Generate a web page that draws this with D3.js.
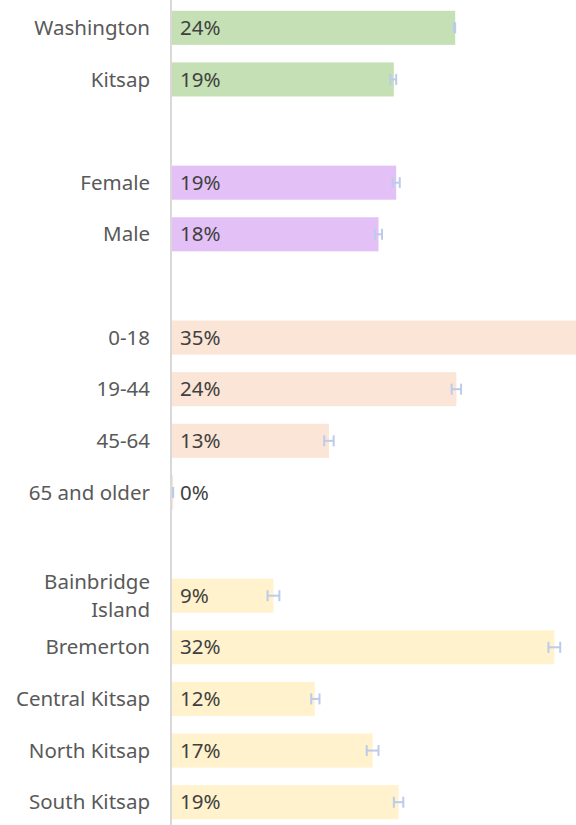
<!DOCTYPE html>
<meta charset="utf-8">
<style>
body { margin: 0; background: #fff; }
.cat { font-family: "Noto Sans", sans-serif; font-size: 20.5px; fill: #595959; }
.val { font-family: "Noto Sans", sans-serif; font-size: 20.5px; fill: #404040; }
</style>
<body>
<script src="https://d3js.org/d3.v7.min.js"></script>
<script>
// data
var categories = ["Washington", "Kitsap", "Female", "Male", "0-18", "19-44", "45-64", "65 and older",
                  "Bainbridge Island", "Bremerton", "Central Kitsap", "North Kitsap", "South Kitsap"];
var groups = ["State", "State", "Sex", "Sex", "Age", "Age", "Age", "Age",
              "Area", "Area", "Area", "Area", "Area"];
var values = [24.0, 18.8, 19.0, 17.5, 35.0, 24.1, 13.3, 0.1, 8.6, 32.4, 12.1, 17.0, 19.2];
var lower  = [23.9, 18.5, 18.7, 17.2, 34.6, 23.7, 12.9, 0.05, 8.1, 31.9, 11.8, 16.5, 18.8];
var upper  = [24.0, 19.0, 19.3, 17.8, 35.4, 24.5, 13.7, 0.1, 9.1, 32.9, 12.5, 17.5, 19.6];
var labels = ["24%", "19%", "19%", "18%", "35%", "24%", "13%", "0%", "9%", "32%", "12%", "17%", "19%"];

var width = 576, height = 825;

var color = d3.scaleOrdinal()
    .domain(["State", "Sex", "Age", "Area"])
    .range(["#c5e0b4", "#e3c1f6", "#fbe5d6", "#fff2cc"]);

// rows with an empty row between groups
var rows = [];
categories.forEach(function(c, i) {
  if (i > 0 && groups[i] != groups[i - 1]) rows.push("gap" + i);
  rows.push(c);
});

var data = categories.map(function(c, i) {
  return {cat: c, group: groups[i], value: values[i], lo: lower[i], hi: upper[i], label: labels[i]};
});

var x = d3.scaleLinear().domain([0, 35]).range([172, 585]);
var y = d3.scaleBand().domain(rows).range([2, 828]).paddingInner(0.34).paddingOuter(0.17);

var svg = d3.select("body").append("svg")
    .attr("width", width)
    .attr("height", height);

// bars
svg.selectAll(".bar")
    .data(data)
  .enter().append("rect")
    .attr("class", "bar")
    .attr("x", x(0))
    .attr("y", function(d) { return y(d.cat); })
    .attr("width", function(d) { return x(d.value) - x(0); })
    .attr("height", y.bandwidth())
    .attr("fill", function(d) { return color(d.group); });

// error bars
var eb = svg.selectAll(".err")
    .data(data)
  .enter().append("g")
    .attr("class", "err")
    .attr("stroke", "#bccbea")
    .attr("stroke-width", 2);
eb.append("line")
    .attr("x1", function(d) { return x(d.lo); })
    .attr("x2", function(d) { return x(d.hi); })
    .attr("y1", function(d) { return y(d.cat) + y.bandwidth() / 2; })
    .attr("y2", function(d) { return y(d.cat) + y.bandwidth() / 2; });
eb.selectAll(".cap")
    .data(function(d) { return [{v: d.lo, cat: d.cat}, {v: d.hi, cat: d.cat}]; })
  .enter().append("line")
    .attr("x1", function(d) { return x(d.v); })
    .attr("x2", function(d) { return x(d.v); })
    .attr("y1", function(d) { return y(d.cat) + y.bandwidth() / 2 - 5.5; })
    .attr("y2", function(d) { return y(d.cat) + y.bandwidth() / 2 + 5.5; });

// vertical axis line
svg.append("line")
    .attr("x1", x(0) - 1).attr("x2", x(0) - 1)
    .attr("y1", 0).attr("y2", height)
    .attr("stroke", "#d9d9d9")
    .attr("stroke-width", 2);

// value labels
svg.selectAll(".val")
    .data(data)
  .enter().append("text")
    .attr("class", "val")
    .attr("x", x(0) + 8)
    .attr("y", function(d) { return y(d.cat) + y.bandwidth() / 2; })
    .attr("dy", "0.35em")
    .text(function(d) { return d.label; });

// category labels, long ones wrap
var cats = svg.selectAll(".cat")
    .data(data)
  .enter().append("text")
    .attr("class", "cat")
    .attr("text-anchor", "end")
    .attr("y", function(d) { return y(d.cat) + y.bandwidth() / 2; });
cats.each(function(d) {
  var t = d3.select(this);
  var words = d.cat == "Bainbridge Island" ? ["Bainbridge", "Island"] : [d.cat];
  words.forEach(function(w, i) {
    t.append("tspan")
      .attr("x", 150)
      .attr("dy", i == 0 ? (0.35 - (words.length - 1) * 0.68) + "em" : "1.36em")
      .text(w);
  });
});
</script>
</body>
